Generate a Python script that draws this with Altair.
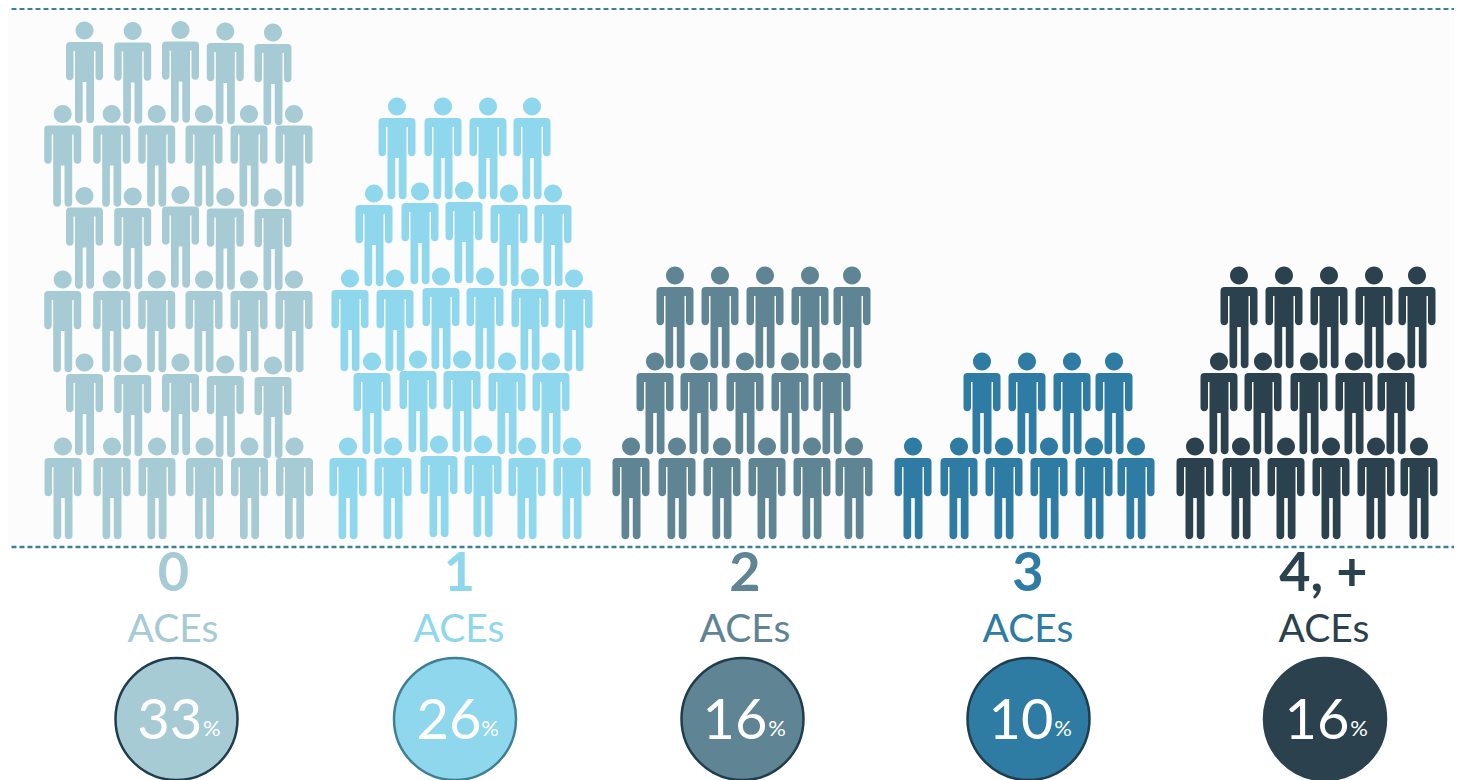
import altair as alt
import pandas as pd

GROUPS = ["0", "1", "2", "3", "4, +"]
COLORS = ["#a6cbd5", "#8fd7ed", "#5f8595", "#2e7ba3", "#2b424e"]
RINGS = ["#1f3d4c", "#3f7f92", "#1f3d4c", "#1f3d4c", "#2b424e"]
PERCENTS = ["33", "26", "16", "10", "16"]

# Figures: (horizontal reading, vertical reading), by row
FIG_0 = [
    ([84.5, 132.7, 180.5, 225.3, 273], [30, 30.5, 29.5, 31, 32]),
    ([62.7, 111.7, 156.7, 204, 249, 294], [113.5] * 6),
    ([84.5, 132.7, 180.5, 225.3, 273], [195.5, 196, 194.5, 196.5, 197]),
    ([62.7, 111.7, 156.7, 204, 249, 294], [279] * 6),
    ([84.5, 132.7, 180.5, 225.3, 273], [362, 363, 362, 364, 365]),
    ([63, 112, 157, 204.5, 249.5, 294.5], [446] * 6),
]
FIG_1 = [
    ([397, 443, 488, 532], [106] * 4),
    ([374, 420, 464, 509, 553], [193, 191, 190, 193, 193]),
    ([350, 395, 441, 485, 530, 574], [278, 278, 276, 276, 277, 278]),
    ([372, 418, 462, 507, 551], [361, 359, 359, 361, 361]),
    ([348, 393, 439, 483, 527, 572], [446, 446, 444, 444, 446, 446]),
]
FIG_2 = [
    ([675, 720, 765, 810, 852], [275] * 5),
    ([655, 699, 745, 790, 832], [361] * 5),
    ([631, 677, 722, 767, 812, 854], [446] * 6),
]
FIG_3 = [
    ([982, 1027, 1072, 1114], [361] * 4),
    ([913, 959, 1004, 1049, 1094, 1136], [446] * 6),
]
FIG_4 = [
    ([1239, 1284, 1329, 1374, 1417], [275] * 5),
    ([1219, 1263, 1309, 1354, 1396], [361] * 5),
    ([1195, 1241, 1286, 1331, 1376, 1419], [446] * 6),
]
FIGURES = [FIG_0, FIG_1, FIG_2, FIG_3, FIG_4]

LABEL_X = [173.5, 459.5, 745, 1028, 1323.5]
ACES_X = [173, 459, 745, 1028, 1324]
CIRCLE_X = [176.5, 455, 742.5, 1028.5, 1325]
PCT_X = [169.7, 449, 735, 1021, 1317]
SIGN_X = [211.7, 490, 777, 1063, 1359]

PERSON = (
    "M-9 0.5A9 9 0 1 1 9 0.5A9 9 0 1 1 -9 0.5Z"
    "M-14.5 12L14.5 12Q18.5 12 18.5 16L18.5 46.5A3.75 3.75 0 0 1 11 46.5L11 21L9.5 21"
    "L9.5 89.5A3.85 3.85 0 0 1 1.8 89.5L1.8 52L-1.8 52L-1.8 89.5A3.85 3.85 0 0 1 -9.5 89.5"
    "L-9.5 21L-11 21L-11 46.5A3.75 3.75 0 0 1 -18.5 46.5L-18.5 16Q-18.5 12 -14.5 12Z"
)

rows = []
for g, fig in zip(GROUPS, FIGURES):
    for xs, ys in fig:
        rows += [{"g": g, "x": x, "y": y} for x, y in zip(xs, ys)]
people = pd.DataFrame(rows)

summary = pd.DataFrame({
    "g": GROUPS, "pct": PERCENTS, "ring": RINGS,
    "lx": LABEL_X, "ax": ACES_X, "cx": CIRCLE_X, "px": PCT_X, "sx": SIGN_X,
    "aces": ["ACEs"] * 5, "sign": ["%"] * 5,
    "ly": [575] * 5, "ay": [630] * 5, "cy": [719] * 5, "py": [722] * 5, "sy": [729] * 5,
})

X = alt.Scale(domain=[8, 1454], nice=False, zero=False)
Y = alt.Scale(domain=[780, 8], nice=False, zero=False)
CS = alt.Scale(domain=GROUPS, range=COLORS)


def px(f):
    return alt.X(f, type="quantitative", scale=X, axis=None)


def py(f):
    return alt.Y(f, type="quantitative", scale=Y, axis=None)


col = alt.Color("g:N", scale=CS, legend=None)

panel = alt.Chart(pd.DataFrame({"a": [8], "b": [1454], "c": [8], "d": [547]})).mark_rect(
    color="#fcfcfc"
).encode(x=px("a"), x2="b", y=py("c"), y2="d")

rules = alt.Chart(pd.DataFrame({"a": [11.5, 11.5], "b": [1454, 1454], "y": [8.6, 547]})).mark_rule(
    color="#3d8296", strokeWidth=2.6, strokeDash=[5, 3]
).encode(x=px("a"), x2="b", y=py("y"))

figures = alt.Chart(people).mark_point(
    shape=PERSON, size=4, filled=True, opacity=1, strokeWidth=0
).encode(x=px("x"), y=py("y"), color=col)

base = alt.Chart(summary)
FONT = "Lato"

labels = base.mark_text(font=FONT, fontSize=54, fontWeight="bold").encode(
    x=px("lx"), y=py("ly"), text="g:N", color=col)
aces = base.mark_text(font=FONT, fontSize=39, fontWeight=400).encode(
    x=px("ax"), y=py("ay"), text="aces:N", color=col)
circles = base.mark_point(shape="circle", size=14884, filled=True, opacity=1, strokeWidth=2.5).encode(
    x=px("cx"), y=py("cy"), fill=col,
    stroke=alt.Stroke("ring:N", scale=None))
pct = base.mark_text(font=FONT, fontSize=56, fontWeight=400, color="white").encode(
    x=px("px"), y=py("py"), text="pct:N")
sign = base.mark_text(font=FONT, fontSize=22, fontWeight=400, color="white").encode(
    x=px("sx"), y=py("sy"), text="sign:N")

chart = alt.layer(panel, rules, figures, labels, aces, circles, pct, sign).properties(
    width=1446, height=772, padding=0, autosize=alt.AutoSizeParams(type="none"),
    background="white",
).configure_view(stroke=None)

chart.save("out.html", embed_options={"renderer": "svg", "actions": False})
